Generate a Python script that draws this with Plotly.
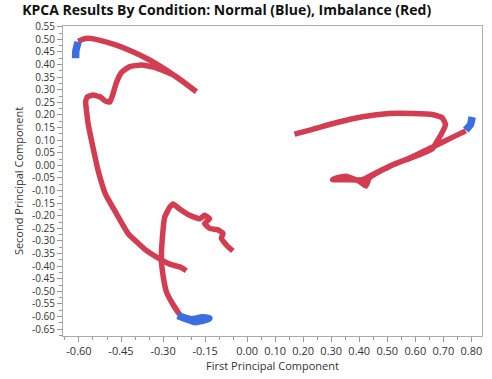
import plotly.graph_objects as go

# Imbalance (red) trajectories
red1_x = [-0.603, -0.585, -0.567, -0.532, -0.472, -0.412, -0.353, -0.294, -0.235, -0.181,
          -0.258, -0.330, -0.377, -0.419, -0.448, -0.466, -0.478, -0.490, -0.507, -0.525,
          -0.549, -0.570, -0.576, -0.567, -0.549, -0.531, -0.505, -0.466, -0.425, -0.365,
          -0.312, -0.276, -0.235, -0.217]
red1_y = [0.492, 0.501, 0.504, 0.498, 0.479, 0.453, 0.421, 0.382, 0.337, 0.292,
          0.356, 0.389, 0.398, 0.392, 0.369, 0.330, 0.286, 0.251, 0.256, 0.272,
          0.279, 0.272, 0.253, 0.163, 0.066, -0.023, -0.115, -0.192, -0.270, -0.333,
          -0.371, -0.392, -0.405, -0.418]

red2_x = [-0.241, -0.264, -0.288, -0.300, -0.306, -0.302, -0.294, -0.276, -0.264, -0.241,
          -0.205, -0.169, -0.152, -0.134, -0.152, -0.134, -0.104, -0.086, -0.092, -0.075,
          -0.051]
red2_y = [-0.592, -0.553, -0.502, -0.437, -0.373, -0.282, -0.205, -0.166, -0.153, -0.173,
          -0.198, -0.212, -0.198, -0.212, -0.231, -0.250, -0.256, -0.270, -0.289, -0.315,
          -0.340]

red3_x = [0.169, 0.234, 0.317, 0.412, 0.507, 0.590, 0.661, 0.696, 0.708, 0.696,
          0.679, 0.661, 0.625, 0.578, 0.531, 0.483, 0.436, 0.424, 0.400, 0.353,
          0.317, 0.305, 0.353, 0.412, 0.447, 0.507, 0.590, 0.673, 0.732, 0.780]
red3_y = [0.124, 0.143, 0.169, 0.193, 0.206, 0.206, 0.202, 0.189, 0.163, 0.131,
          0.098, 0.066, 0.047, 0.027, 0.008, -0.018, -0.050, -0.082, -0.063, -0.043,
          -0.050, -0.057, -0.057, -0.057, -0.037, -0.005, 0.034, 0.079, 0.111, 0.137]

# Normal (blue) segments
blue1_x = [-0.612, -0.611, -0.603]
blue1_y = [0.425, 0.455, 0.490]
blue2_x = [-0.248, -0.223, -0.187, -0.159, -0.136, -0.160, -0.200, -0.230]
blue2_y = [-0.596, -0.606, -0.620, -0.615, -0.607, -0.605, -0.612, -0.603]
blue3_x = [0.780, 0.797, 0.803]
blue3_y = [0.140, 0.163, 0.192]

x_tickvals = [-0.60, -0.45, -0.30, -0.15, 0.00, 0.10, 0.20, 0.30, 0.40, 0.50, 0.60, 0.70, 0.80]
y_tickvals = [round(-0.65 + 0.05 * i, 2) for i in range(25)]

RED = "#d43d51"
BLUE = "#3c6ee0"

fig = go.Figure()
for xs, ys in [(red1_x, red1_y), (red2_x, red2_y), (red3_x, red3_y)]:
    fig.add_trace(go.Scatter(x=xs, y=ys, mode="lines",
                             line=dict(color=RED, width=5.5, shape="spline", smoothing=0.4),
                             showlegend=False, hoverinfo="skip"))
for xs, ys in [(blue1_x, blue1_y), (blue2_x, blue2_y), (blue3_x, blue3_y)]:
    fig.add_trace(go.Scatter(x=xs, y=ys, mode="lines",
                             line=dict(color=BLUE, width=7.5, shape="spline", smoothing=0.4),
                             showlegend=False, hoverinfo="skip"))

axis_font = dict(family="Open Sans, sans-serif", size=11, color="#333333")
ytick_font = dict(family="Open Sans, sans-serif", size=10, color="#333333")

fig.update_layout(
    width=492, height=379,
    margin=dict(l=63, r=9, t=26, b=37),
    paper_bgcolor="white", plot_bgcolor="white",
    title=dict(text="<b>KPCA Results By Condition: Normal (Blue), Imbalance (Red)</b>",
               x=0.045, xanchor="left", y=0.974, yanchor="middle",
               font=dict(family="Open Sans, sans-serif", size=14, color="#111111")),
    xaxis=dict(range=[-0.657, 0.838], tickvals=x_tickvals,
               ticktext=[f"{v:.2f}" for v in x_tickvals],
               ticks="outside", ticklen=5, tickcolor="#999999",
               minor=dict(dtick=0.05, tick0=0, ticks="outside", ticklen=3, tickcolor="#999999"),
               showline=True, linecolor="#aaaaaa", mirror=True, showgrid=False, zeroline=False,
               tickfont=axis_font,
               title=dict(text="First Principal Component", font=axis_font, standoff=4)),
    yaxis=dict(range=[-0.677, 0.553], tickvals=y_tickvals,
               ticktext=[f"{v:.2f}" for v in y_tickvals],
               ticks="outside", ticklen=5, tickcolor="#999999",
               minor=dict(dtick=0.025, tick0=0, ticks="outside", ticklen=3, tickcolor="#999999"),
               showline=True, linecolor="#aaaaaa", mirror=True, showgrid=False, zeroline=False,
               tickfont=ytick_font,
               title=dict(text="Second Principal Component", font=axis_font, standoff=6)),
)

fig.write_html("out.html")
